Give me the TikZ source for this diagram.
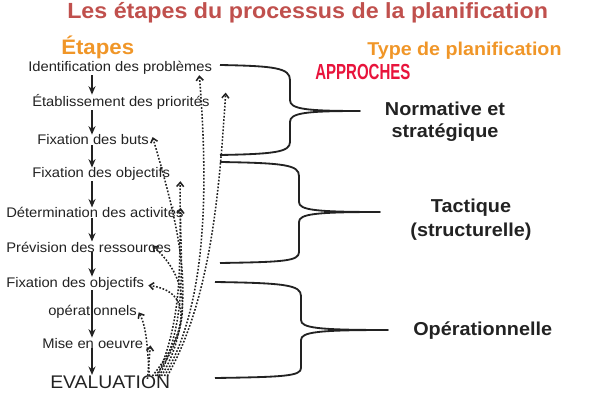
\documentclass[tikz,border=0pt]{standalone}
\usepackage{fontspec}
\setmainfont[FakeStretch=1.06]{Liberation Sans}
\usetikzlibrary{arrows.meta,calc}
\definecolor{titrerouge}{RGB}{192,80,77}
\definecolor{orangetitre}{RGB}{240,150,40}
\definecolor{rougeapproche}{RGB}{232,20,60}
\definecolor{texte}{RGB}{34,34,34}
\begin{document}
\begin{tikzpicture}[x=0.025cm,y=-0.025cm,
    etape/.style={anchor=base west,inner sep=0pt,text=texte,font=\fontsize{9.9}{12}\selectfont},
    typeplan/.style={align=center,inner sep=0pt,text=texte,font=\bfseries\fontsize{13.3}{16}\selectfont},
    suite/.style={-{Stealth[length=6pt,width=5pt]},line width=1.2pt,draw=texte},
    retour/.style={-{Straight Barb[length=3pt,width=5pt]},line width=1.1pt,dash pattern=on 1.2pt off 1.2pt,draw=texte},
    accolade/.style={line width=1.3pt,draw=texte,line join=round}]
  \useasboundingbox (0,0) rectangle (598,400);
  \node[anchor=base west,inner sep=0pt,text=titrerouge,font=\bfseries\fontsize{15.6}{18}\selectfont] (titre) at (67,18.5) {Les étapes du processus de la planification};
  \node[anchor=base west,inner sep=0pt,text=orangetitre,font=\bfseries\fontsize{14.9}{18}\selectfont] (etapes) at (61,55) {Étapes};
  \node[anchor=base west,inner sep=0pt,text=orangetitre,font=\bfseries\fontsize{13.2}{16}\selectfont] (typeplanif) at (367,56) {Type de planification};
  \node[anchor=base west,inner sep=0pt,text=rougeapproche,font=\bfseries\fontsize{15.5}{18}\selectfont] (approches) at (315,80) {\scalebox{0.65}[1]{APPROCHES}};
  \draw
    (28,72) node[etape] (ident) {Identification des problèmes}
    (32,107) node[etape] (prio) {Établissement des priorités}
    (37,145) node[etape] (buts) {Fixation des buts}
    (32,178) node[etape] (obj) {Fixation des objectifs}
    (6,218) node[etape] (activ) {Détermination des activités}
    (6,252) node[etape] (ressources) {Prévision des ressources}
    (6,287) node[etape] (objop) {Fixation des objectifs}
    (48,315) node[etape] (opnel) {opérationnels}
    (42,348) node[etape] (oeuvre) {Mise en oeuvre}
    (50,388) node[etape,font=\fontsize{13}{15}\selectfont] (eval) {EVALUATION};
  \node[typeplan,font=\bfseries\fontsize{13.3}{15.6}\selectfont] (norm) at (445,122) {Normative et\\stratégique};
  \node[typeplan,font=\bfseries\fontsize{13.3}{17}\selectfont] (tact) at (471,220) {Tactique\\(structurelle)};
  \node[typeplan,anchor=base west] (oper) at (413,335) {Opérationnelle};
  \coordinate (axe) at (92,0);
  \begin{scope}
    \draw[suite] (ident.south -| axe) -- (prio.north -| axe);
    \draw[suite] (prio.south -| axe) -- (buts.north -| axe);
    \draw[suite] (buts.south -| axe) -- (obj.north -| axe);
    \draw[suite] (obj.south -| axe) -- (activ.north -| axe);
    \draw[suite] (activ.south -| axe) -- (ressources.north -| axe);
    \draw[suite] (ressources.south -| axe) -- (objop.north -| axe);
    \draw[suite] (objop.south -| axe) -- (oeuvre.north -| axe);
    \draw[suite] (oeuvre.south -| axe) -- (eval.north -| axe);
  \end{scope}
  \draw[accolade] (220,65) .. controls (275,66) and (290,68) .. (290,80) -- (290,100)
    .. controls (290,109) and (305,111) .. (360,111)
    .. controls (305,111) and (290,113) .. (290,122) -- (290,142)
    .. controls (290,152) and (275,154) .. (220,155);
  \draw[accolade] (220,162) .. controls (285,163) and (299,165) .. (299,176) -- (299,202)
    .. controls (299,210) and (315,212) .. (380,212)
    .. controls (315,212) and (299,214) .. (299,222) -- (299,252)
    .. controls (299,261) and (285,262) .. (220,263);
  \draw[accolade] (215,282) .. controls (285,283) and (301,285) .. (301,296) -- (301,320)
    .. controls (301,328) and (318,330) .. (388,330)
    .. controls (318,330) and (301,332) .. (301,340) -- (301,368)
    .. controls (301,376) and (285,377) .. (215,378);
  \begin{scope}
    \draw[retour] ($(eval.north east)+(-6,1)$) .. controls +(45,-75) and +(8,100) .. ($(ident.south east)+(-13,0)$);
    \draw[retour] ($(eval.north east)+(-3,1)$) .. controls +(45,-80) and +(-6,90) .. ($(prio.north east)+(16,-2)$);
    \draw[retour] ($(eval.north east)+(-9,1)$) .. controls +(40,-65) and +(25,85) .. ($(buts.east)+(3.5,-3)$);
    \draw[retour] ($(eval.north east)+(-11,1)$) .. controls +(32,-65) and +(-2,65) .. ($(obj.south east)+(10,0)$);
    \draw[retour] ($(eval.north east)+(-13,1)$) .. controls +(26,-60) and +(-2,55) .. ($(activ.east)+(-3,-5)$);
    \draw[retour] ($(eval.north east)+(-15,1)$) .. controls +(42,-55) and +(33,28) .. ($(ressources.east)+(-19,-1)$);
    \draw[retour] ($(eval.north east)+(-18,1)$) .. controls +(36,-45) and +(45,6) .. ($(objop.east)+(4,2)$);
    \draw[retour] ($(eval.north east)+(-21,1)$) .. controls +(-2,-27) and +(8,14) .. ($(opnel.east)+(1.5,1)$);
    \draw[retour] ($(eval.north east)+(-23,4)$) -- ($(oeuvre.south east)+(7,-3)$);
  \end{scope}
\end{tikzpicture}
\end{document}
